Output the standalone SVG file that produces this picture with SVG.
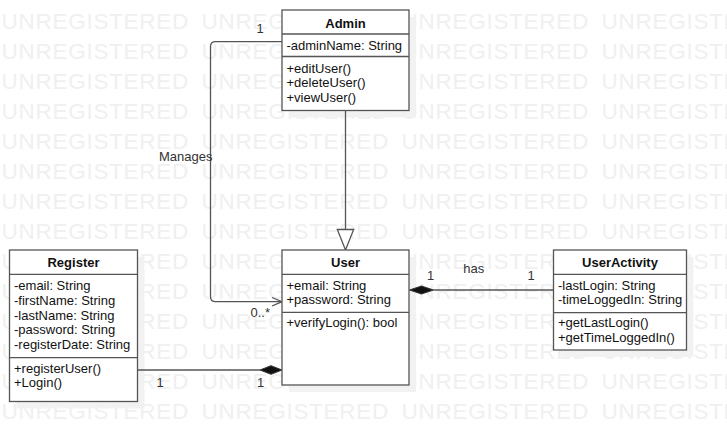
<svg xmlns="http://www.w3.org/2000/svg" width="727" height="442" viewBox="0 0 727 442">
<style>
.wm{font-family:"Liberation Sans",Arial,sans-serif;font-size:22.5px;letter-spacing:0.73px;fill:#f0f0f0}
.box{fill:#fff;stroke:#555;stroke-width:1.3}
.shadow{fill:#f1f1f1;opacity:0.9}
.div{stroke:#555;stroke-width:1.3}
.name{font-family:"Liberation Sans",Arial,sans-serif;font-size:13px;font-weight:bold;fill:#111;text-anchor:middle}
.mem{font-family:"Liberation Sans",Arial,sans-serif;font-size:13px;fill:#111}
.lbl{font-family:"Liberation Sans",Arial,sans-serif;font-size:13px;fill:#333}
.c{text-anchor:middle}
.line{fill:none;stroke:#555;stroke-width:1.3}
</style>
<rect width="727" height="442" fill="#fff"/>
<g id="watermark">
<text class="wm" y="29.3"><tspan x="1.5">UNREGISTERED</tspan><tspan x="201.5">UNREGISTERED</tspan><tspan x="401.5">UNREGISTERED</tspan><tspan x="601.5">UNREGISTERED</tspan></text>
<text class="wm" y="59.3"><tspan x="1.5">UNREGISTERED</tspan><tspan x="201.5">UNREGISTERED</tspan><tspan x="401.5">UNREGISTERED</tspan><tspan x="601.5">UNREGISTERED</tspan></text>
<text class="wm" y="89.3"><tspan x="1.5">UNREGISTERED</tspan><tspan x="201.5">UNREGISTERED</tspan><tspan x="401.5">UNREGISTERED</tspan><tspan x="601.5">UNREGISTERED</tspan></text>
<text class="wm" y="119.3"><tspan x="1.5">UNREGISTERED</tspan><tspan x="201.5">UNREGISTERED</tspan><tspan x="401.5">UNREGISTERED</tspan><tspan x="601.5">UNREGISTERED</tspan></text>
<text class="wm" y="149.3"><tspan x="1.5">UNREGISTERED</tspan><tspan x="201.5">UNREGISTERED</tspan><tspan x="401.5">UNREGISTERED</tspan><tspan x="601.5">UNREGISTERED</tspan></text>
<text class="wm" y="179.3"><tspan x="1.5">UNREGISTERED</tspan><tspan x="201.5">UNREGISTERED</tspan><tspan x="401.5">UNREGISTERED</tspan><tspan x="601.5">UNREGISTERED</tspan></text>
<text class="wm" y="209.3"><tspan x="1.5">UNREGISTERED</tspan><tspan x="201.5">UNREGISTERED</tspan><tspan x="401.5">UNREGISTERED</tspan><tspan x="601.5">UNREGISTERED</tspan></text>
<text class="wm" y="239.3"><tspan x="1.5">UNREGISTERED</tspan><tspan x="201.5">UNREGISTERED</tspan><tspan x="401.5">UNREGISTERED</tspan><tspan x="601.5">UNREGISTERED</tspan></text>
<text class="wm" y="269.3"><tspan x="1.5">UNREGISTERED</tspan><tspan x="201.5">UNREGISTERED</tspan><tspan x="401.5">UNREGISTERED</tspan><tspan x="601.5">UNREGISTERED</tspan></text>
<text class="wm" y="299.3"><tspan x="1.5">UNREGISTERED</tspan><tspan x="201.5">UNREGISTERED</tspan><tspan x="401.5">UNREGISTERED</tspan><tspan x="601.5">UNREGISTERED</tspan></text>
<text class="wm" y="329.3"><tspan x="1.5">UNREGISTERED</tspan><tspan x="201.5">UNREGISTERED</tspan><tspan x="401.5">UNREGISTERED</tspan><tspan x="601.5">UNREGISTERED</tspan></text>
<text class="wm" y="359.3"><tspan x="1.5">UNREGISTERED</tspan><tspan x="201.5">UNREGISTERED</tspan><tspan x="401.5">UNREGISTERED</tspan><tspan x="601.5">UNREGISTERED</tspan></text>
<text class="wm" y="389.3"><tspan x="1.5">UNREGISTERED</tspan><tspan x="201.5">UNREGISTERED</tspan><tspan x="401.5">UNREGISTERED</tspan><tspan x="601.5">UNREGISTERED</tspan></text>
<text class="wm" y="419.3"><tspan x="1.5">UNREGISTERED</tspan><tspan x="201.5">UNREGISTERED</tspan><tspan x="401.5">UNREGISTERED</tspan><tspan x="601.5">UNREGISTERED</tspan></text>
</g>
<g id="shadows">
<rect class="shadow" x="289" y="17" width="127" height="100.5"/>
<rect class="shadow" x="289" y="257" width="127" height="135"/>
<rect class="shadow" x="16.5" y="257" width="128" height="151.5"/>
<rect class="shadow" x="560.5" y="257" width="133" height="100"/>
</g>
<g id="connectors">
<line class="line" x1="345.5" y1="110.5" x2="345.5" y2="229.5"/>
<polygon points="345.5,250 337.3,229.5 353.7,229.5" fill="#fff" stroke="#555" stroke-width="1.3"/>
<path class="line" d="M282,41.7 H215.5 Q210.5,41.7 210.5,46.7 V296.7 Q210.5,301.7 215.5,301.7 H282"/>
<polyline class="line" points="272,297.5 282,301.7 272,306"/>
<line class="line" x1="137.5" y1="370" x2="260" y2="370"/>
<polygon points="282,370 271,365.7 260,370 271,374.3" fill="#111" stroke="#333" stroke-width="1"/>
<line class="line" x1="433.5" y1="290" x2="553.5" y2="290"/>
<polygon points="409.5,290 421.5,286 433.5,290 421.5,294" fill="#111" stroke="#333" stroke-width="1"/>
<text class="lbl c" x="260" y="33.3">1</text>
<text class="lbl" x="159" y="161">Manages</text>
<text class="lbl" x="250.5" y="316.5">0..*</text>
<text class="lbl c" x="160" y="386.7">1</text>
<text class="lbl c" x="260.5" y="386.7">1</text>
<text class="lbl c" x="430.7" y="280">1</text>
<text class="lbl" x="463.3" y="273.3">has</text>
<text class="lbl c" x="531" y="280">1</text>
</g>
<g id="Admin">
<rect class="box" x="282" y="10" width="127" height="100.5"/>
<line class="div" x1="282" y1="34" x2="409" y2="34"/>
<line class="div" x1="282" y1="56.5" x2="409" y2="56.5"/>
<text class="name" x="345.5" y="27.5">Admin</text>
<text class="mem" x="286.5" y="49.5">-adminName: String</text>
<text class="mem" x="286.5" y="72.5">+editUser()</text>
<text class="mem" x="286.5" y="87">+deleteUser()</text>
<text class="mem" x="286.5" y="101.5">+viewUser()</text>
</g>
<g id="User">
<rect class="box" x="282" y="250" width="127" height="135"/>
<line class="div" x1="282" y1="274.3" x2="409" y2="274.3"/>
<line class="div" x1="282" y1="312.3" x2="409" y2="312.3"/>
<text class="name" x="345.5" y="267">User</text>
<text class="mem" x="286.5" y="289.5">+email: String</text>
<text class="mem" x="286.5" y="304.2">+password: String</text>
<text class="mem" x="286.5" y="326.8">+verifyLogin(): bool</text>
</g>
<g id="Register">
<rect class="box" x="9.5" y="250" width="128" height="151.5"/>
<line class="div" x1="9.5" y1="274.3" x2="137.5" y2="274.3"/>
<line class="div" x1="9.5" y1="357.7" x2="137.5" y2="357.7"/>
<text class="name" x="73.5" y="267">Register</text>
<text class="mem" x="14" y="289.7">-email: String</text>
<text class="mem" x="14" y="304.6">-firstName: String</text>
<text class="mem" x="14" y="319.5">-lastName: String</text>
<text class="mem" x="14" y="334.4">-password: String</text>
<text class="mem" x="14" y="349.3">-registerDate: String</text>
<text class="mem" x="14" y="372.5">+registerUser()</text>
<text class="mem" x="14" y="387">+Login()</text>
</g>
<g id="UserActivity">
<rect class="box" x="553.5" y="250" width="133" height="100"/>
<line class="div" x1="553.5" y1="274.3" x2="686.5" y2="274.3"/>
<line class="div" x1="553.5" y1="312.7" x2="686.5" y2="312.7"/>
<text class="name" x="620" y="267">UserActivity</text>
<text class="mem" x="558" y="289.5">-lastLogin: String</text>
<text class="mem" x="558" y="304.3">-timeLoggedIn: String</text>
<text class="mem" x="558" y="327">+getLastLogin()</text>
<text class="mem" x="558" y="341.7">+getTimeLoggedIn()</text>
</g>
</svg>
